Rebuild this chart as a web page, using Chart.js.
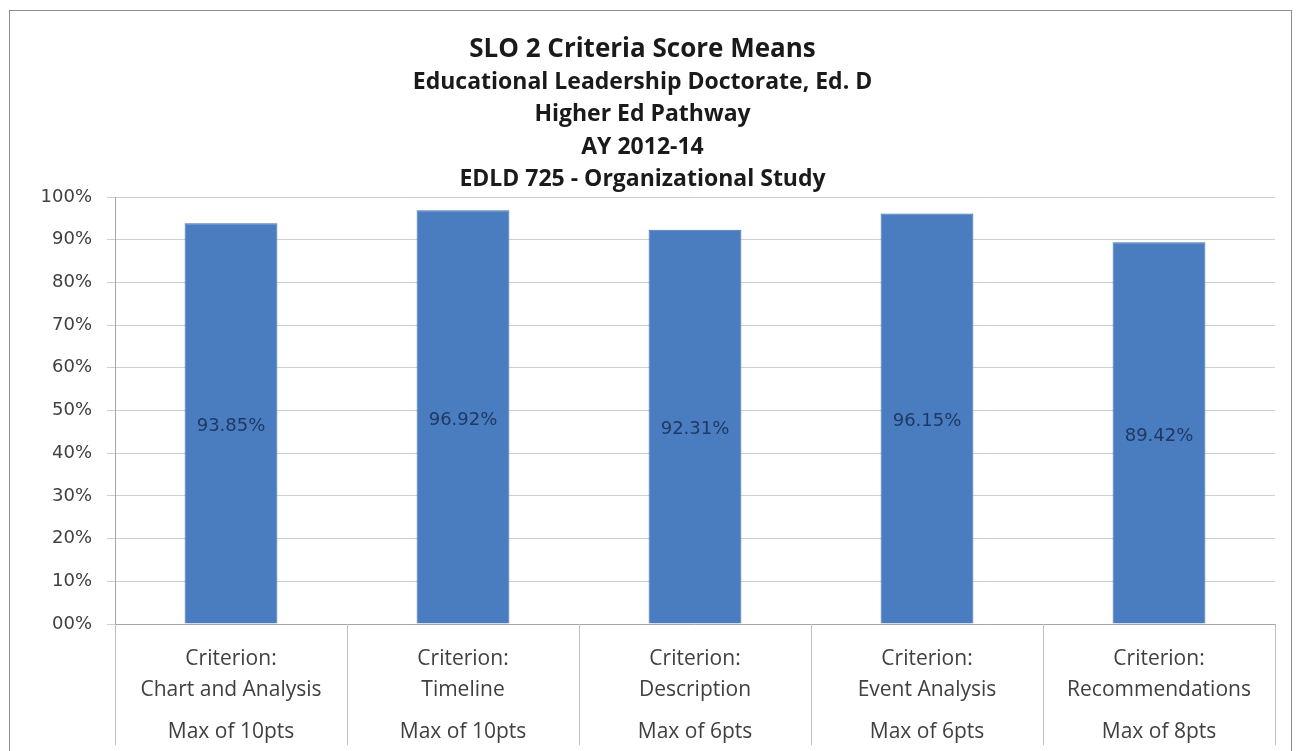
<!DOCTYPE html>
<html>
<head>
<meta charset="utf-8">
<script src="https://cdn.jsdelivr.net/npm/chart.js@4.4.1/dist/chart.umd.min.js"></script>
<style>
  html, body { margin: 0; padding: 0; background: #ffffff; overflow: hidden; }
  #frame { position: absolute; left: 9px; top: 10px; width: 1281px; height: 760px; border: 1px solid #8c8c8c; background: #ffffff; }
  #wrap { position: relative; width: 1281px; height: 740px; }
</style>
</head>
<body>
<div id="frame"><div id="wrap"><canvas id="c"></canvas></div></div>
<script>
// ---- data ----
const titleText = "SLO 2 Criteria Score Means";
const subtitleLines = [
  "Educational Leadership Doctorate, Ed. D",
  "Higher Ed Pathway",
  "AY 2012-14",
  "EDLD 725 - Organizational Study"
];
const criteria = [
  ["Criterion:", "Chart and Analysis"],
  ["Criterion:", "Timeline"],
  ["Criterion:", "Description"],
  ["Criterion:", "Event Analysis"],
  ["Criterion:", "Recommendations"]
];
const maxPoints = ["Max of 10pts", "Max of 10pts", "Max of 6pts", "Max of 6pts", "Max of 8pts"];
const scoreMeans = [0.9385, 0.9692, 0.9231, 0.9615, 0.8942];
const yTicks = [0, 0.1, 0.2, 0.3, 0.4, 0.5, 0.6, 0.7, 0.8, 0.9, 1.0];

// ---- plugin: value labels in the middle of each bar ----
const midLabels = {
  id: 'midLabels',
  afterDatasetsDraw(chart) {
    const ctx = chart.ctx;
    const meta = chart.getDatasetMeta(0);
    ctx.save();
    ctx.font = '18px "DejaVu Sans"';
    ctx.fillStyle = '#1f3864';
    ctx.textAlign = 'center';
    ctx.textBaseline = 'middle';
    meta.data.forEach((bar, i) => {
      const v = chart.data.datasets[0].data[i];
      ctx.fillText((v * 100).toFixed(2) + '%', bar.x, (bar.y + bar.base) / 2 + 3);
    });
    ctx.restore();
  }
};

// ---- plugin: category separators below the plot (table-like axis) ----
const separators = {
  id: 'separators',
  afterDraw(chart) {
    const xs = chart.scales.x;
    const n = chart.data.labels.length;
    const half = (xs.getPixelForValue(1) - xs.getPixelForValue(0)) / 2;
    const top = chart.chartArea.bottom;
    const ctx = chart.ctx;
    ctx.save();
    ctx.strokeStyle = '#bfbfbf';
    ctx.lineWidth = 1;
    ctx.beginPath();
    for (let i = 0; i <= n; i++) {
      const px = Math.round(xs.getPixelForValue(i) - half) + 0.5;
      ctx.moveTo(px, top);
      ctx.lineTo(px, top + 121);
    }
    ctx.stroke();
    ctx.restore();
  }
};

new Chart(document.getElementById('c'), {
  type: 'bar',
  data: {
    labels: criteria,
    datasets: [{
      data: scoreMeans,
      backgroundColor: '#4a7dc0',
      borderColor: '#3e6fae',
      borderWidth: 1,
      barPercentage: 0.4,
      categoryPercentage: 1.0,
      xAxisID: 'x'
    }]
  },
  options: {
    responsive: true,
    maintainAspectRatio: false,
    animation: false,
    layout: { padding: { left: 0, right: 16, top: 0, bottom: 5.5 } },
    plugins: {
      legend: { display: false },
      tooltip: { enabled: false },
      title: {
        display: true,
        text: titleText,
        color: '#1a1a1a',
        font: { family: 'Open Sans', size: 26, weight: 'bold', lineHeight: 1.2 },
        padding: { top: 23.4, bottom: 0.4 }
      },
      subtitle: {
        display: true,
        text: subtitleLines,
        color: '#1a1a1a',
        font: { family: 'Open Sans', size: 23, weight: 'bold', lineHeight: 1.41 },
        padding: { top: 0, bottom: 1.3 }
      }
    },
    scales: {
      y: {
        min: 0,
        max: 1,
        afterFit(scale) { scale.width = 105; },
        afterBuildTicks(scale) { scale.ticks = yTicks.map(v => ({ value: v })); },
        ticks: {
          color: '#404040',
          font: { family: 'DejaVu Sans', size: 18 },
          padding: 15,
          callback: (v) => v === 0 ? '00%' : Math.round(v * 100) + '%'
        },
        grid: { color: '#cfcfcf', tickLength: 8, lineWidth: 1 },
        border: { display: true, color: '#a6a6a6' }
      },
      x: {
        type: 'category',
        position: 'bottom',
        weight: 0,
        offset: true,
        afterFit(scale) { scale.height = 79.5; },
        grid: { display: false, drawTicks: false, tickLength: 0 },
        border: { display: true, color: '#a6a6a6' },
        ticks: {
          color: '#404040',
          font: { family: 'Open Sans', size: 21, lineHeight: 1.476 },
          padding: 19.5,
          maxRotation: 0,
          autoSkip: false
        }
      },
      x2: {
        type: 'category',
        position: 'bottom',
        weight: 1,
        offset: true,
        labels: maxPoints,
        afterFit(scale) { scale.height = 42; },
        grid: { display: false, drawTicks: false, tickLength: 0 },
        border: { display: false },
        ticks: {
          color: '#404040',
          font: { family: 'Open Sans', size: 21, lineHeight: 1.476 },
          padding: 13,
          maxRotation: 0,
          autoSkip: false
        }
      }
    }
  },
  plugins: [midLabels, separators]
});
</script>
</body>
</html>
